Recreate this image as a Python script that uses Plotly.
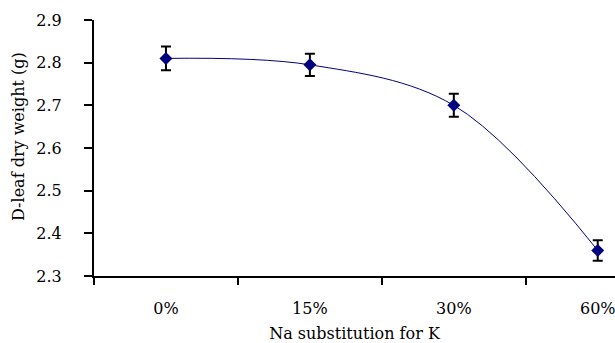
import plotly.graph_objects as go

categories = ["0%", "15%", "30%", "60%"]
values = [2.81, 2.795, 2.70, 2.36]
errors = [0.028, 0.026, 0.027, 0.024]
y_ticks = [2.3, 2.4, 2.5, 2.6, 2.7, 2.8, 2.9]

FONT = "DejaVu Serif"

fig = go.Figure()
fig.add_trace(go.Scatter(
    x=categories, y=values,
    mode="lines+markers",
    line=dict(color="#000080", width=1, shape="spline", smoothing=1.0),
    marker=dict(symbol="diamond", size=10, color="#000080"),
    error_y=dict(type="data", array=errors, visible=True, color="black", thickness=2, width=5),
    showlegend=False,
))

fig.update_layout(
    width=615, height=343,
    margin=dict(l=94, r=0, t=20, b=67),
    plot_bgcolor="white", paper_bgcolor="white",
    font=dict(family=FONT, size=16, color="black"),
    xaxis=dict(
        type="category", range=[-0.5, 3.12],
        tickson="boundaries", ticks="outside", ticklen=7, tickwidth=2, tickcolor="black",
        showline=True, linecolor="black", linewidth=1.5,
        showgrid=False, zeroline=False,
        ticklabelstandoff=17,
        tickfont=dict(family=FONT, size=16),
        title=dict(text="Na substitution for K", font=dict(family=FONT, size=16), standoff=14),
    ),
    yaxis=dict(
        range=[2.3, 2.9], tickvals=y_ticks, ticktext=[f"{v:.1f}" for v in y_ticks],
        ticks="outside", ticklen=8, tickwidth=2, tickcolor="black",
        showline=True, linecolor="black", linewidth=2,
        showgrid=False, zeroline=False,
        ticklabelstandoff=19,
        tickfont=dict(family=FONT, size=16),
    ),
    annotations=[dict(
        text="D-leaf dry weight (g)", textangle=-90,
        xref="paper", yref="paper", x=(18 - 94) / 521, y=(276 - 137) / 256,
        xanchor="center", yanchor="middle", showarrow=False,
        font=dict(family=FONT, size=16, color="black"),
    )],
)

fig.write_html("out.html")
